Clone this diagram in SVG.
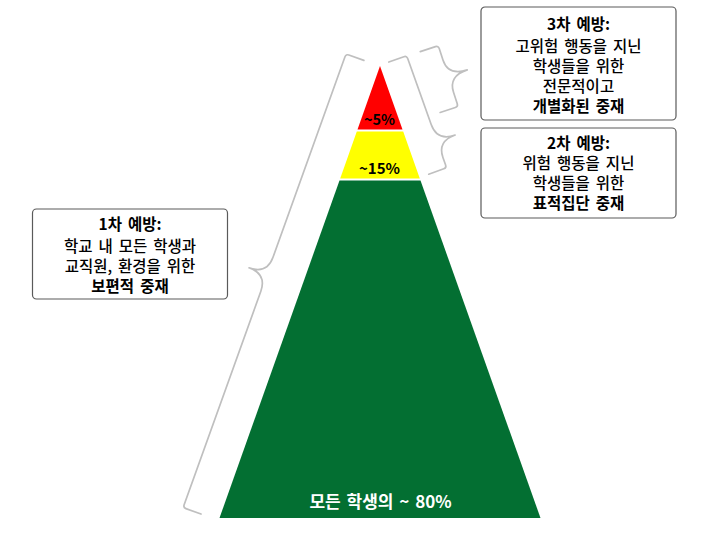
<svg xmlns="http://www.w3.org/2000/svg" width="720" height="535" viewBox="0 0 720 535">
<style>
.box{fill:#ffffff;stroke:#5a5a5a;stroke-width:1.2}
.t{font-family:"Noto Sans CJK KR","Noto Sans",sans-serif;font-size:15.5px;font-weight:500;fill:#000;text-anchor:middle;word-spacing:2.5px}
.b{font-weight:bold}
.brace{fill:none;stroke:#bfbfbf;stroke-width:1.7;stroke-linejoin:round;stroke-linecap:round}
.pct{font-family:"Noto Sans CJK KR","Noto Sans",sans-serif;font-weight:bold;text-anchor:middle;fill:#000}
</style>
<rect width="720" height="535" fill="#ffffff"/>
<g id="pyramid">
  <polygon id="tier3" points="380,66 402.5,129.5 357.5,129.5" fill="#ff0000"/>
  <polygon id="tier2" points="356.8,131.5 403.2,131.5 419.8,178.5 340.2,178.5" fill="#ffff00"/>
  <polygon id="tier1" points="339.5,180.5 420.5,180.5 540.5,518 219.5,518" fill="#036f32"/>
  <text class="pct" x="379.5" y="125" font-size="14.5">~5%</text>
  <text class="pct" x="379.5" y="173.5" font-size="15">~15%</text>
  <text class="pct" x="380.5" y="508" font-size="17" style="fill:#ffffff" word-spacing="2">모든 학생의 ~ 80%</text>
</g>
<g id="connectors">
  <path class="brace" transform="translate(346,54) rotate(19.75)" d="M19,0 L3,0 Q0,0 0,3 L0,216 Q0,234 -19,234 Q0,234 0,252 L0,479 Q0,482 3,482 L19,482"/>
  <path class="brace" transform="translate(438.3,45.7) rotate(-18.1)" d="M-19,0 L-3,0 Q0,0 0,3 L0,15 Q0,32 20,32 Q0,32 0,49 L0,61 Q0,64 -3,64 L-19,64"/>
  <path class="brace" transform="translate(406.7,55.7) rotate(-19.6)" d="M-19,0 L-3,0 Q0,0 0,3 L0,73 Q0,91 19,91 Q0,91 0,108 L0,116 Q0,119 -3,119 L-19,119"/>
</g>
<g id="box3">
  <rect class="box" x="481" y="7" width="195" height="113" rx="4"/>
  <text class="t b" x="578.5" y="30">3차 예방:</text>
  <text class="t" x="578.5" y="51.5">고위험 행동을 지닌</text>
  <text class="t" x="578.5" y="71.5">학생들을 위한</text>
  <text class="t" x="578.5" y="91.5">전문적이고</text>
  <text class="t b" x="578.5" y="111.5">개별화된 중재</text>
</g>
<g id="box2">
  <rect class="box" x="481" y="128" width="195" height="90" rx="4"/>
  <text class="t b" x="578.5" y="149">2차 예방:</text>
  <text class="t" x="578.5" y="169">위험 행동을 지닌</text>
  <text class="t" x="578.5" y="189">학생들을 위한</text>
  <text class="t b" x="578.5" y="209">표적집단 중재</text>
</g>
<g id="box1">
  <rect class="box" x="32.5" y="209" width="195" height="90" rx="4"/>
  <text class="t b" x="130" y="230">1차 예방:</text>
  <text class="t" x="130" y="251.5">학교 내 모든 학생과</text>
  <text class="t" x="130" y="271.5">교직원, 환경을 위한</text>
  <text class="t b" x="130" y="291.5">보편적 중재</text>
</g>
</svg>
